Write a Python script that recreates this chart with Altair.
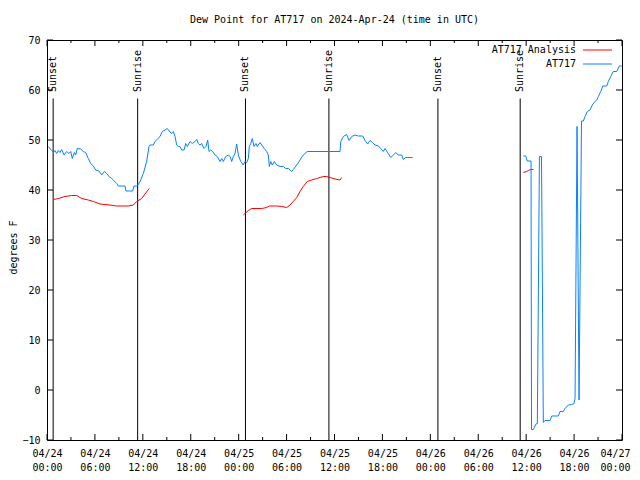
import json
import altair as alt
import pandas as pd

# ---------------- data (hours since 2024-04-24 00:00 UTC, dew point in F) ----------------
obs_a_hours = [0.16, 0.59, 0.79, 1.00, 1.21, 1.42, 1.63, 1.84, 2.13, 2.47, 2.75, 2.97, 3.17, 3.42, 3.59,
               3.79, 4.22, 4.55, 4.85, 5.17, 5.47, 5.80, 6.10, 6.51, 6.85, 7.18, 7.48, 7.76, 8.10, 8.30,
               8.73, 8.93, 9.77, 9.89, 10.73, 10.89, 11.31, 11.65, 12.06, 12.48, 12.77, 12.90, 13.31,
               13.52, 14.15, 14.44, 14.78, 15.06, 15.31, 15.57, 15.82, 16.03, 16.24, 16.44, 16.65, 16.87,
               17.16, 17.37, 17.57, 17.91, 18.19, 18.53, 18.75, 18.95, 19.16, 19.37, 19.66, 19.91, 20.12,
               20.29, 20.50, 20.75, 21.04, 21.33, 21.66, 21.88, 22.08, 22.38, 22.70, 22.92, 23.13, 23.33,
               23.54, 23.75, 23.96, 24.26, 24.58, 24.79, 25.01, 25.21, 25.33, 25.51, 25.71, 25.92, 26.17,
               26.33, 26.67, 26.88, 27.21, 27.51, 27.71, 27.84, 28.01, 28.21, 28.46, 28.76, 29.18, 29.59,
               29.89, 30.22, 30.43, 30.64, 30.84, 31.27, 31.68, 32.09, 32.59, 36.69, 36.78, 37.10, 37.53,
               37.82, 38.15, 38.57, 38.98, 39.53, 39.82, 40.16, 40.45, 40.78, 41.07, 41.49, 41.79, 42.11,
               42.32, 42.74, 43.04, 43.36, 43.70, 43.99, 44.42, 44.62, 44.92, 45.79]
obs_a_values = [48.7, 47.9, 47.5, 47.9, 47.3, 47.9, 47.5, 48.1, 47.0, 47.7, 47.3, 47.7, 46.3, 47.5, 47.0,
                48.3, 48.2, 47.7, 47.5, 46.3, 45.3, 44.8, 44.0, 43.8, 43.0, 43.7, 43.3, 42.7, 42.3, 42.0,
                41.3, 40.8, 40.8, 39.8, 39.8, 40.8, 40.8, 41.7, 43.3, 45.7, 48.7, 49.0, 49.0,
                49.7, 50.7, 51.7, 52.0, 52.3, 51.8, 51.3, 51.7, 50.7, 49.0, 48.7, 48.7, 48.0,
                48.0, 49.3, 48.7, 49.7, 49.3, 49.7, 50.1, 49.3, 49.0, 49.3, 48.3, 48.7, 50.0,
                47.7, 48.0, 47.7, 47.0, 46.7, 45.7, 46.3, 45.7, 46.7, 47.0, 46.7, 45.7, 46.7,
                47.3, 49.2, 47.0, 45.7, 45.0, 45.7, 45.5, 46.3, 48.7, 49.3, 50.3, 48.7, 49.3,
                48.7, 49.5, 49.0, 48.3, 47.7, 47.0, 44.7, 45.7, 45.0, 45.7, 45.0, 44.7, 44.7,
                44.3, 44.3, 44.0, 43.7, 44.1, 45.0, 46.0, 47.0, 47.7, 47.7, 49.7, 50.7, 51.1,
                49.9, 50.7, 51.0, 50.8, 50.8, 49.9, 49.2, 49.9, 49.5, 49.0, 48.8, 48.3, 47.7,
                48.3, 47.3, 46.5, 47.0, 47.5, 47.0, 47.0, 46.1, 46.5, 46.5]

obs_b_hours = [59.64, 59.94, 60.14, 60.61, 60.67, 60.90, 61.23, 61.40, 61.66, 61.92, 62.15, 62.36, 62.99,
               63.20, 64.03, 64.24, 64.65, 64.86, 65.28, 65.70, 65.99, 66.12, 66.37, 66.62, 66.93, 67.16,
               67.37, 67.66, 68.00, 68.28, 68.62, 68.83, 69.04, 69.34, 69.59, 70.09, 70.29, 70.59, 70.91,
               71.34, 71.67, 71.97]
obs_b_values = [46.8, 46.8, 45.8, 45.8, -7.9, -7.9, -6.8, -6.7, 46.7, 46.7, -6.5, -6.1, -6.1,
                -5.2, -5.2, -4.3, -4.3, -3.7, -3.0, -2.9, -2.7, -1.7, 52.7, -2.0, 53.8, 53.8,
                54.7, 55.7, 56.0, 57.0, 57.7, 58.0, 58.7, 59.7, 60.8, 60.8, 61.7, 62.7, 63.7,
                63.7, 64.8, 64.8]

ana_a_hours = [0.79, 1.42, 2.25, 3.09, 3.72, 4.35, 5.17, 5.80, 6.64, 7.89, 8.73, 10.18, 10.81, 11.23,
               11.86, 12.27, 12.81]
ana_a_values = [38.1, 38.3, 38.7, 38.9, 38.9, 38.3, 38.0, 37.7, 37.2, 37.0, 36.8, 36.8, 37.0, 37.7,
                38.3, 39.2, 40.3]
ana_b_hours = [24.58, 24.79, 25.21, 25.63, 26.88, 27.51, 27.84, 28.76, 29.39, 30.02, 30.43, 30.84,
               31.27, 31.68, 32.09, 32.59, 33.15, 33.77, 34.60, 35.02, 35.44, 36.06, 36.69, 36.90]
ana_b_values = [35.0, 35.3, 35.9, 36.3, 36.3, 36.5, 36.8, 36.8, 36.7, 36.5, 37.0, 37.7,
                38.5, 39.7, 40.7, 41.7, 42.0, 42.3, 42.7, 42.7, 42.5, 42.2, 42.0, 42.5]
ana_c_hours = [59.64, 60.07, 60.27, 60.57, 60.90]
ana_c_values = [43.5, 43.7, 43.9, 44.1, 44.1]

sun_hours = [0.77, 11.35, 24.85, 35.30, 48.95, 59.25]
sun_labels = ["Sunset", "Sunrise", "Sunset", "Sunrise", "Sunset", "Sunrise"]

major_x = [0, 6, 12, 18, 24, 30, 36, 42, 48, 54, 60, 66, 72]
minor_x = [3, 9, 15, 21, 27, 33, 39, 45, 51, 57, 63, 69]
tick_dates = ["04/24", "04/24", "04/24", "04/24", "04/25", "04/25", "04/25", "04/25",
              "04/26", "04/26", "04/26", "04/26", "04/27"]
tick_times = ["00:00", "06:00", "12:00", "18:00", "00:00", "06:00", "12:00", "18:00",
              "00:00", "06:00", "12:00", "18:00", "00:00"]
y_ticks = [-10, 0, 10, 20, 30, 40, 50, 60, 70]

legend_names = ["AT717 Analysis", "AT717"]
legend_colors = ["#ff0000", "#0a80ff"]

title_text = "Dew Point for AT717 on 2024-Apr-24 (time in UTC)"
y_title = "degrees F"

# ---------------- build tables ----------------
obs = pd.concat([
    pd.DataFrame({"hour": obs_a_hours, "dew": obs_a_values, "seg": "a"}),
    pd.DataFrame({"hour": obs_b_hours, "dew": obs_b_values, "seg": "b"}),
])
ana = pd.concat([
    pd.DataFrame({"hour": ana_a_hours, "dew": ana_a_values, "seg": "a"}),
    pd.DataFrame({"hour": ana_b_hours, "dew": ana_b_values, "seg": "b"}),
    pd.DataFrame({"hour": ana_c_hours, "dew": ana_c_values, "seg": "c"}),
])
sun = pd.DataFrame({"hour": sun_hours, "label": sun_labels})

W, H = 575, 400
FONT = "DejaVu Sans Mono"
FS = 10

x_scale = alt.Scale(domain=[0, 72], nice=False, zero=False)
y_scale = alt.Scale(domain=[-10, 70], nice=False, zero=False)

label_expr = (f"[{json.dumps(tick_dates)}[round(datum.value/6)], "
              f"{json.dumps(tick_times)}[round(datum.value/6)]]")
x_axis = alt.Axis(values=major_x, labelExpr=label_expr, title=None, ticks=False, domain=False,
                  grid=False, labelPadding=8, labelLineHeight=14, labelFont=FONT, labelFontSize=FS,
                  labelColor="black", labelAngle=0, labelOverlap=False, labelFlush=False,
                  labelBaseline="top",
                  labelOffset={"condition": {"test": "datum.value >= 72", "value": -7}, "value": 0})
y_axis = alt.Axis(values=y_ticks, title=y_title, ticks=False, domain=False, grid=False,
                  labelPadding=7, labelFont=FONT, labelFontSize=FS, labelColor="black",
                  labelFlush=False, labelOverlap=False,
                  titleFont=FONT, titleFontSize=FS, titleFontWeight="normal", titleColor="black",
                  titleAngle=270, titleX=-34, titleY=207, titleAlign="center",
                  titleBaseline="middle")

X = alt.X("hour:Q", scale=x_scale, axis=x_axis)
Y = alt.Y("dew:Q", scale=y_scale, axis=y_axis)

layers = []

# sunrise / sunset lines and labels
layers.append(alt.Chart(sun).mark_rule(color="black", strokeWidth=1).encode(
    x=X, y=alt.YDatum(58.3, scale=y_scale, axis=y_axis), y2=alt.Y2Datum(-10)))
layers.append(alt.Chart(sun).mark_text(angle=270, align="left", baseline="middle", font=FONT,
                                       fontSize=FS, color="black").encode(
    x=X, y=alt.YDatum(59.6, scale=y_scale, axis=y_axis), text="label:N"))

# series
layers.append(alt.Chart(ana).mark_line(color=legend_colors[0], strokeWidth=1).encode(
    x=X, y=Y, detail="seg:N"))
layers.append(alt.Chart(obs).mark_line(color=legend_colors[1], strokeWidth=1).encode(
    x=X, y=Y, detail="seg:N"))

# inward tick marks on all four sides
mx = pd.DataFrame({"hour": major_x})
mnx = pd.DataFrame({"hour": minor_x})
yt = pd.DataFrame({"dew": y_ticks})
for df, ln in ((mx, 6), (mnx, 3)):
    layers.append(alt.Chart(df).mark_rule(color="black").encode(
        x=X, y=alt.value(H), y2=alt.value(H - ln)))
    layers.append(alt.Chart(df).mark_rule(color="black").encode(
        x=X, y=alt.value(0), y2=alt.value(ln)))
layers.append(alt.Chart(yt).mark_rule(color="black").encode(
    y=Y, x=alt.value(0), x2=alt.value(6)))
layers.append(alt.Chart(yt).mark_rule(color="black").encode(
    y=Y, x=alt.value(W), x2=alt.value(W - 6)))

# gnuplot-style key (text on the left, line sample on the right)
for i, (name, col) in enumerate(zip(legend_names, legend_colors)):
    ly = 10 + 14 * i
    d = pd.DataFrame({"name": [name]})
    layers.append(alt.Chart(d).mark_text(align="right", baseline="middle", font=FONT,
                                         fontSize=FS, color="black").encode(
        x=alt.value(529), y=alt.value(ly), text="name:N"))
    layers.append(alt.Chart(d).mark_rule(color=col, strokeWidth=1).encode(
        x=alt.value(536), x2=alt.value(565), y=alt.value(ly)))

chart = alt.layer(*layers).properties(
    width=W, height=H,
    title=alt.TitleParams(title_text, font=FONT, fontSize=FS, fontWeight="normal",
                          color="black", anchor="middle", offset=10),
    padding={"left": 39, "top": 32, "right": 9, "bottom": 31},
    autosize=alt.AutoSizeParams(type="none"),
    background="white",
).configure_view(stroke="black", strokeWidth=1)

chart.save("out.html", embed_options={"renderer": "svg", "actions": False})
